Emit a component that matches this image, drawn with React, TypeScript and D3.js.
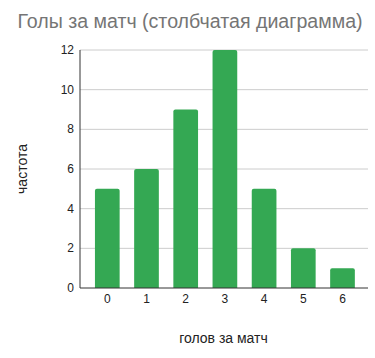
import React from "react";
import * as d3 from "d3";

const categories = ["0", "1", "2", "3", "4", "5", "6"];
const values = [5, 6, 9, 12, 5, 2, 1];
const yTicks = [0, 2, 4, 6, 8, 10, 12];
const title = "Голы за матч (столбчатая диаграмма)";
const xTitle = "голов за матч";
const yTitle = "частота";

export default function App() {
  const W = 375, H = 358;
  const left = 80, right = 368, top = 50, bottom = 288;
  const x = d3.scaleBand<string>().domain(categories).range([87.7, 362.1]).paddingInner(0.37).paddingOuter(0.185);
  const y = d3.scaleLinear().domain([0, 12]).range([bottom, top]);
  const font = "Arial, 'Liberation Sans', sans-serif";
  const r = 2;
  return (
    <svg width={W} height={H} style={{ position: "absolute", left: 0, top: 0, background: "#fff" }} fontFamily={font}>
      <text x={190} y={28} textAnchor="middle" fontSize={19.6} fill="#757575">{title}</text>
      {yTicks.map((t) => (
        <g key={t}>
          {t !== 0 && <line x1={left} x2={right} y1={y(t)} y2={y(t)} stroke="#cccccc" strokeWidth={1} />}
          <text x={74} y={y(t) + 4} textAnchor="end" fontSize={12} fill="#222">{t}</text>
        </g>
      ))}
      {categories.map((c, i) => {
        const x0 = x(c)!;
        const w = x.bandwidth();
        const y0 = y(values[i]);
        const d = `M${x0},${bottom}V${y0 + r}Q${x0},${y0} ${x0 + r},${y0}H${x0 + w - r}Q${x0 + w},${y0} ${x0 + w},${y0 + r}V${bottom}Z`;
        return (
          <g key={c}>
            <path d={d} fill="#34a853" />
            <text x={x0 + w / 2} y={303} textAnchor="middle" fontSize={12} fill="#222">{c}</text>
          </g>
        );
      })}
      <line x1={left} x2={left} y1={top} y2={bottom} stroke="#333" strokeWidth={1} />
      <line x1={left} x2={right} y1={bottom} y2={bottom} stroke="#333" strokeWidth={1} />
      <text x={223.5} y={343} textAnchor="middle" fontSize={14} fill="#222">{xTitle}</text>
      <text transform={`translate(27,${(top + bottom) / 2}) rotate(-90)`} textAnchor="middle" fontSize={14} fill="#222">{yTitle}</text>
    </svg>
  );
}
